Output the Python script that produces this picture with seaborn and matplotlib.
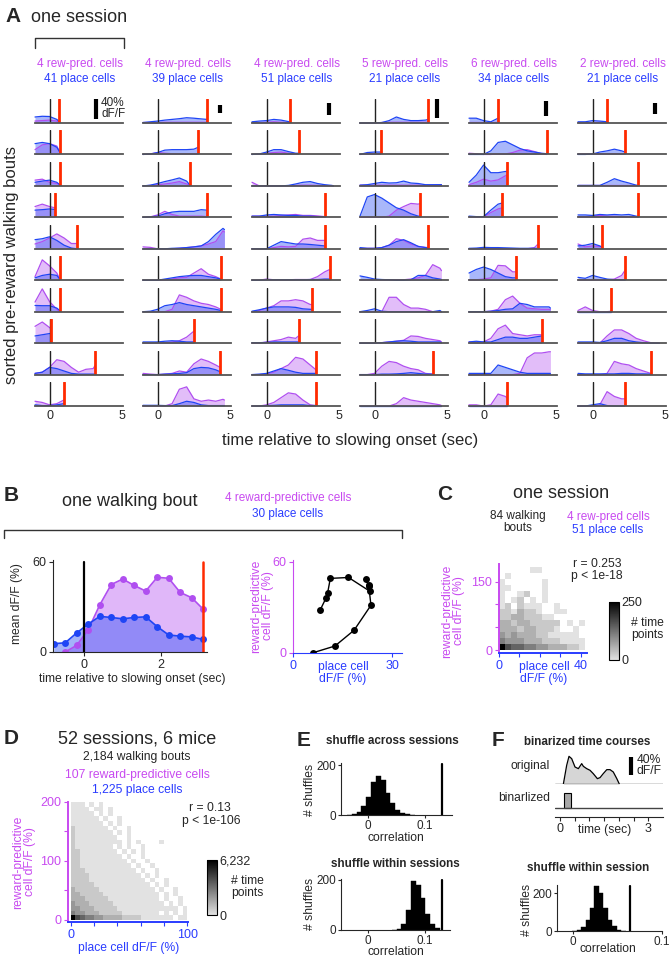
import numpy as np
import pandas as pd
import matplotlib
matplotlib.use("Agg")
import matplotlib.pyplot as plt
import seaborn as sns
from matplotlib.colors import LinearSegmentedColormap
from matplotlib.lines import Line2D

# ===============================
# DATA
# ===============================
# panel A: traces sampled on a 0.5 s grid, last value sits at the end of the bout
# values are in units of row height (scale bar = 40% dF/F, see SCALE_BAR_H)
T_GRID = [-1.0, -0.5, 0.0, 0.5, 1.0, 1.5, 2.0, 2.5, 3.0, 3.5, 4.0, 4.5]
HEAD_REW = [4, 4, 4, 5, 6, 2]
HEAD_PLACE = [41, 39, 51, 21, 34, 21]
SCALE_BAR_H = [0.83, 0.33, 0.5, 0.79, 0.63, 0.43]

RED_C1 = [0.68, 0.7, 0.7, 0.35, 1.9, 0.7, 0.7, 0.1, 3.15, 0.98]
PINK_C1 = [[0.08, 0.1, 0.12, 0.08, 0.02], [0.2, 0.4, 0.45, 0.35, 0.1], [0.24, 0.28, 0.15, 0.1, 0.05],
           [0.45, 0.55, 0.45, 0.4], [0.2, 0.3, 0.45, 0.62, 0.45, 0.22, 0.22], [0.15, 0.85, 0.6, 0.3, 0.05],
           [0.4, 0.95, 0.42, 0.1, 0.0], [0.7, 0.88, 0.65, 0.6],
           [0.05, 0.1, 0.3, 0.62, 0.55, 0.3, 0.1, 0.22, 0.25, 0.4], [0.2, 0.15, 0.05, 0.1, 0.25]]
BLUE_C1 = [[0.25, 0.28, 0.27, 0.15, 0.05], [0.45, 0.5, 0.45, 0.3, 0.1], [0.15, 0.2, 0.24, 0.15, 0.05],
           [0.3, 0.32, 0.35, 0.33], [0.38, 0.42, 0.5, 0.35, 0.15, 0.03, 0.0], [0.1, 0.2, 0.25, 0.2, 0.05],
           [0.26, 0.25, 0.25, 0.15, 0.05], [0.3, 0.35, 0.4, 0.4],
           [0.05, 0.1, 0.3, 0.25, 0.15, 0.05, 0.02, 0.02, 0.02, 0.02], [0.05, 0.02, 0.02, 0.05, 0.1]]

RED_C2 = [3.4, 2.8, 2.2, 3.4, None, 4.35, 4.35, 2.5, 4.3, None]
PINK_C2 = [[0.02, 0.02, 0.02, 0.03, 0.03, 0.03, 0.03, 0.03, 0.03, 0.03],
           [0, 0.02, 0.08, 0.05, 0.03, 0.03, 0.03, 0.03, 0.03],
           [0, 0.02, 0.05, 0.08, 0.12, 0.18, 0.08, 0.03],
           [0, 0.02, 0.1, 0.25, 0.12, 0.05, 0.05, 0.05, 0.05, 0.03],
           [0.08, 0.06, 0, 0, 0, 0.02, 0.05, 0.08, 0.12, 0.2, 0.3, 0.75, 0.7],
           [0, 0, 0, 0.02, 0.05, 0.1, 0.12, 0.3, 0.48, 0.25, 0.15, 0.05],
           [0, 0, 0, 0, 0.1, 0.7, 0.6, 0.45, 0.35, 0.3, 0.2, 0.1],
           [0, 0, 0.02, 0.02, 0.05, 0.1, 0.25, 0.5],
           [0.05, 0.02, 0, 0.02, 0.05, 0.15, 0.1, 0.45, 0.65, 0.55, 0.4, 0.3],
           [0, 0, 0, 0, 0.1, 0.7, 0.8, 0.3, 0.2, 0.25, 0.2, 0.28, 0.25]]
BLUE_C2 = [[0.02, 0.05, 0.08, 0.12, 0.15, 0.18, 0.22, 0.2, 0.17, 0.15],
           [0, 0.02, 0.08, 0.18, 0.2, 0.2, 0.2, 0.22, 0.3],
           [0, 0.03, 0.1, 0.18, 0.25, 0.33, 0.2, 0.05],
           [0, 0.02, 0.05, 0.15, 0.22, 0.25, 0.25, 0.25, 0.32, 0.3],
           [0, 0, 0, 0, 0.02, 0.03, 0.05, 0.08, 0.12, 0.3, 0.6, 0.85, 0.8],
           [0, 0, 0, 0.05, 0.1, 0.15, 0.18, 0.2, 0.2, 0.15, 0.1, 0.05],
           [0, 0.02, 0.1, 0.25, 0.3, 0.38, 0.3, 0.25, 0.2, 0.15, 0.1, 0.05],
           [0.05, 0.05, 0.05, 0.08, 0.1, 0.08, 0.05, 0.05],
           [0, 0, 0, 0.02, 0.03, 0.05, 0.08, 0.25, 0.3, 0.28, 0.2, 0.12],
           [0.03, 0.03, 0.03, 0.02, 0.02, 0.1, 0.2, 0.15, 0.05, 0.02, 0.02, 0.02, 0.02]]

RED_C3 = [1.6, 2.2, None, 4.05, 4.05, 4.35, 3.15, 2.2, 3.4, 3.4]
PINK_C3 = [[0.02, 0.02, 0.03, 0.05, 0.03, 0.02, 0.02],
           [0, 0.02, 0.05, 0.08, 0.1, 0.05, 0.03, 0.03],
           [0.15, 0, 0, 0, 0, 0, 0.02, 0.03, 0.03, 0.02, 0.02, 0, 0],
           [0.05, 0.05, 0.05, 0.05, 0.08, 0.1, 0.12, 0.08, 0.08, 0.06, 0.03, 0.03],
           [0, 0, 0, 0.05, 0.1, 0.08, 0.1, 0.4, 0.45, 0.35, 0.35, 0.35],
           [0, 0, 0.05, 0.02, 0.02, 0.02, 0.03, 0.03, 0.03, 0.15, 0.35, 0.45],
           [0, 0.05, 0.15, 0.25, 0.45, 0.45, 0.5, 0.45, 0.3, 0.3],
           [0, 0, 0.05, 0.1, 0.15, 0.25, 0.2, 0.3],
           [0, 0, 0.02, 0.1, 0.25, 0.4, 0.72, 0.65, 0.4, 0.2],
           [0, 0, 0.05, 0.15, 0.35, 0.55, 0.5, 0.25, 0.05, 0.02]]
BLUE_C3 = [[0.05, 0.08, 0.1, 0.15, 0.12, 0.06, 0.05],
           [0, 0.02, 0.1, 0.2, 0.2, 0.12, 0.05, 0.05],
           [0, 0, 0, 0, 0, 0.02, 0.08, 0.15, 0.18, 0.1, 0.05, 0.02, 0],
           [0.05, 0.05, 0.1, 0.12, 0.1, 0.08, 0.08, 0.05, 0.05, 0.03, 0.03, 0.03],
           [0, 0, 0, 0.15, 0.3, 0.25, 0.2, 0.2, 0.18, 0.15, 0.12, 0.12],
           [0, 0, 0.02, 0.02, 0.02, 0.02, 0.02, 0.02, 0.03, 0.03, 0.05, 0.05],
           [0.02, 0.08, 0.15, 0.2, 0.2, 0.2, 0.18, 0.12, 0.1, 0.1],
           [0.02, 0.02, 0.03, 0.05, 0.05, 0.05, 0.05, 0.05],
           [0, 0.02, 0.05, 0.15, 0.25, 0.18, 0.1, 0.05, 0.05, 0.05],
           [0, 0, 0.02, 0.03, 0.05, 0.05, 0.05, 0.05, 0.02, 0.02]]

RED_C4 = [3.7, 0.41, None, 3.13, 3.7, None, None, None, 4.0, None]
PINK_C4 = [[0, 0, 0, 0.02, 0.03, 0.03, 0.03, 0.03, 0.03, 0.03, 0.03],
           [0, 0.02, 0.03, 0.03],
           [0.03, 0.03, 0.03, 0.03, 0.03, 0.03, 0.03, 0.03, 0.03, 0.03, 0.03, 0.05, 0.05],
           [0, 0, 0, 0, 0.05, 0.3, 0.45, 0.58, 0.55, 0.58],
           [0.02, 0.02, 0.02, 0.05, 0.15, 0.42, 0.35, 0.2, 0.1, 0.06, 0.05],
           [0.02, 0.02, 0.02, 0.02, 0.02, 0.02, 0.02, 0.05, 0.1, 0.2, 0.65, 0.5, 0.4],
           [0, 0, 0, 0, 0.6, 0.6, 0.3, 0.15, 0.15, 0.1, 0, 0, 0],
           [0, 0, 0, 0.02, 0.05, 0.08, 0.12, 0.3, 0.28, 0.2, 0.15, 0.1, 0.05],
           [0, 0, 0.05, 0.35, 0.55, 0.5, 0.35, 0.25, 0.2, 0.05, 0.02],
           [0, 0, 0, 0, 0, 0.1, 0.35, 0.25, 0.2, 0.15, 0.1, 0.05, 0.02]]
BLUE_C4 = [[0, 0, 0, 0.02, 0.1, 0.25, 0.15, 0.1, 0.1, 0.12, 0.15],
           [0, 0.08, 0.1, 0.1],
           [0.03, 0.05, 0.1, 0.15, 0.12, 0.13, 0.2, 0.12, 0.1, 0.05, 0.05, 0.05, 0.05],
           [0.05, 0.85, 0.95, 0.8, 0.6, 0.4, 0.3, 0.15, 0.05, 0.05],
           [0.05, 0.02, 0.02, 0.05, 0.15, 0.3, 0.38, 0.25, 0.1, 0.05, 0.03],
           [0.18, 0.12, 0.05, 0.03, 0.02, 0.0, 0.0, 0.02, 0.2, 0.2, 0.1, 0.05, 0.03],
           [0, 0.05, 0.12, 0.02, 0, 0, 0, 0, 0, 0, 0, 0.05, 0],
           [0, 0, 0, 0.02, 0.05, 0.08, 0.1, 0.08, 0.05, 0.05, 0.05, 0.05, 0.02],
           [0, 0, 0, 0.02, 0.02, 0.03, 0.05, 0.08, 0.05, 0.02, 0.02],
           [0.02, 0.02, 0.02, 0.02, 0.02, 0.02, 0.02, 0.02, 0.02, 0.02, 0.02, 0.02, 0.02]]

RED_C5 = [1.0, 4.34, 1.6, 1.3, 3.72, 2.2, None, 4.0, None, 1.6]
PINK_C5 = [[0.03, 0.03, 0.03, 0.03, 0.03],
           [0.05, 0.03, 0.0, 0.0, 0.02, 0.02, 0.08, 0.18, 0.2, 0.12, 0.03, 0.0],
           [0.05, 0.15, 0.28, 0.2, 0.25, 0.42, 0.45],
           [0.02, 0.02, 0.02, 0.2, 0.35, 0.4],
           [0, 0, 0, 0, 0, 0, 0, 0, 0, 0.05, 0.18],
           [0.02, 0.02, 0.05, 0.1, 0.62, 0.6, 0.35, 0.35],
           [0, 0, 0, 0.02, 0.1, 0.5, 0.65, 0.35, 0.15, 0.12, 0.1, 0.1, 0.08],
           [0.05, 0.05, 0.05, 0.2, 0.6, 0.75, 0.4, 0.35, 0.3, 0.35, 0.35],
           [0, 0, 0, 0, 0, 0, 0, 0.05, 0.7, 0.9, 0.9, 0.95, 0.95],
           [0.05, 0.05, 0, 0.05, 0.5, 0.4, 0.35]]
BLUE_C5 = [[0.2, 0.2, 0.1, 0.05, 0.2],
           [0, 0, 0, 0.15, 0.5, 0.55, 0.4, 0.25, 0.15, 0.1, 0.05, 0.03],
           [0.15, 0.45, 0.87, 0.55, 0.55, 0.6, 0.6],
           [0.05, 0.03, 0.03, 0.3, 0.55, 0.6],
           [0.02, 0.03, 0.06, 0.05, 0.05, 0.04, 0.03, 0.02, 0.02, 0.02, 0.02],
           [0.3, 0.45, 0.55, 0.45, 0.3, 0.15, 0.1, 0.1],
           [0, 0, 0, 0.02, 0.05, 0.1, 0.12, 0.35, 0.3, 0.2, 0.2, 0.2, 0.15],
           [0.05, 0.08, 0.05, 0.05, 0.15, 0.25, 0.25, 0.2, 0.2, 0.25, 0.3],
           [0.05, 0.05, 0.05, 0.05, 0.4, 0.3, 0.2, 0.1, 0.05, 0.05, 0.05, 0.05, 0.05],
           [0, 0, 0, 0, 0, 0, 0]]

RED_C6 = [1.0, 2.24, 3.15, 3.15, 0.68, 2.24, 1.3, None, 4.0, 2.2]
PINK_C6 = [[0.02, 0.02, 0.02, 0.03, 0.03],
           [0.02, 0.02, 0.02, 0.02, 0.03, 0.03, 0.03, 0.03],
           [0.02, 0.02, 0.02, 0.02, 0.02, 0.02, 0.02, 0.02, 0.02, 0.02],
           [0.03, 0.03, 0.05, 0.08, 0.05, 0.04, 0.03, 0.03, 0.03, 0.03],
           [0.2, 0.08, 0.12, 0.1, 0.05],
           [0.02, 0.02, 0.02, 0.02, 0.02, 0.05, 0.2, 0.42],
           [0.05, 0.2, 0.05, 0, 0, 0.02],
           [0, 0, 0, 0, 0.3, 0.55, 0.55, 0.4, 0.2, 0.1, 0.02, 0, 0],
           [0, 0, 0, 0, 0.05, 0.55, 0.45, 0.4, 0.25, 0.15, 0.05],
           [0, 0, 0, 0.05, 0.6, 0.4, 0.3, 0.3]]
BLUE_C6 = [[0.05, 0.05, 0.1, 0.08, 0.05],
           [0, 0, 0.02, 0.1, 0.15, 0.22, 0.15, 0.1],
           [0.02, 0.02, 0.02, 0.02, 0.15, 0.3, 0.2, 0.12, 0.03, 0.02],
           [0.1, 0.1, 0.08, 0.12, 0.1, 0.12, 0.1, 0.12, 0.05, 0.03],
           [0.12, 0.15, 0.22, 0.12, 0.05],
           [0.12, 0.08, 0.2, 0.12, 0.05, 0.02, 0.02, 0.02],
           [0, 0, 0, 0, 0, 0],
           [0.05, 0.05, 0.05, 0.03, 0.1, 0.2, 0.2, 0.1, 0.05, 0.02, 0, 0, 0],
           [0.05, 0.03, 0.03, 0.03, 0.03, 0.03, 0.05, 0.05, 0.03, 0.03, 0.02],
           [0, 0, 0.05, 0.1, 0.02, 0, 0, 0]]

# panel B: one walking bout (mean dF/F, %)
B_TIME = [-0.8, -0.5, -0.2, 0.1, 0.4, 0.7, 1.0, 1.3, 1.6, 1.9, 2.2, 2.5, 2.8, 3.1]
B_PINK = [np.nan, 0, 4.4, 14.8, 31.2, 44.7, 48.4, 44.1, 40.4, 49.5, 48.9, 39.5, 36.0, 28.4]
B_BLUE = [5.5, 6.1, 12.7, 18.5, 23.6, 22.9, 22.0, 22.9, 23.3, 16.8, 11.3, 10.5, 10.0, 8.3]
B_REWARD_T = 3.1

# panel C: one session 2D histogram (grey level 0-9, '.' = empty), top row first
C_ROWS = [".....00",
          ".0",
          "0......0",
          "00.....0",
          "0..01..0",
          "0.01.0.0",
          "01.1000..0",
          "1102110..00",
          "112211100",
          "2212211111.0.0",
          "2221221110..0",
          "3232221100000",
          "43332221110000",
          "96554433222110"]
C_BIN_X, C_BIN_Y = 3, 13
C_CBAR_MAX = "250"

# panel D: all sessions 2D histogram, top row first
D_ROWS = ["000.0.0",
          "0000.00.0",
          "00000.0.0",
          "000000.0..0",
          "0000000.0.0",
          "10000000.0..0",
          "100000000.0.0",
          "1000000000..0",
          "10000000000.0.0....0",
          "100000000.0.0..0",
          "1100000000.0.0.0",
          "11000000000.0..0",
          "110000000000.0..0",
          "1100000000000.0..0",
          "11100000000000.0..0",
          "111100000000000.0.0",
          "1111000000000000.0..0",
          "11111000000000000.0.0",
          "211111000000000000.0..0",
          "2211111000000000000.0.0",
          "2221111100000000000.0..0",
          "32221111100000000000.0.0",
          "33222111110000000000000.0",
          "4332221111100000000.0.0.0",
          "9654433222211110000000.00"]
D_BIN_X, D_BIN_Y = 4, 8
D_CBAR_MAX = "6,232"

# panel E: shuffle histograms
E1_CENTERS = [-0.03325, -0.02475, -0.01625, -0.00775, 0.00075, 0.00925, 0.01775,
              0.02625, 0.03475, 0.04325, 0.05175, 0.06025, 0.06875, 0.07725]
E1_COUNTS = [1, 3, 13, 36, 73, 133, 156, 140, 87, 47, 20, 7, 3, 1]
E2_CENTERS = [0.04625, 0.05475, 0.06325, 0.07175, 0.08025, 0.08875, 0.09725, 0.10575, 0.11425, 0.12275]
E2_COUNTS = [1, 3, 24, 78, 193, 180, 126, 65, 24, 8]
E_BIN_W = 0.0085
E_REAL = 0.13

# panel F: binarized example + shuffle
F_T = [0.113, 0.227, 0.306, 0.397, 0.51, 0.624, 0.737, 0.794, 0.907, 1.02, 1.13, 1.27, 1.36,
       1.47, 1.59, 1.70, 1.81, 1.93, 2.02]
F_V = [0, 41.6, 61.3, 56.2, 37.9, 34.3, 45.3, 39.4, 34.3, 30.7, 23.4, 12.4, 14.6, 23.4,
       32.1, 32.1, 27.0, 12.4, 0]
F_BIN_ON, F_BIN_OFF = 0.146, 0.374
F_CENTERS = [0.0018, 0.0068, 0.0118, 0.0168, 0.0218, 0.0268, 0.0318, 0.0368, 0.0418, 0.0468, 0.0518, 0.0568]
F_COUNTS = [2, 7, 21, 61, 120, 240, 200, 120, 61, 25, 7, 2]
F_BIN_W = 0.005
F_REAL = 0.064

# ===============================
# STYLE
# ===============================
sns.set_style("ticks")
plt.rcParams['font.family'] = ['Liberation Sans', 'DejaVu Sans']
plt.rcParams['xtick.major.size'] = 3
plt.rcParams['ytick.major.size'] = 3

PINK_TXT = '#c84af0'
BLUE_TXT = '#2a3cff'
PINK_LINE = '#b04ff0'
BLUE_LINE = '#1f45f5'
PINK_FILL = '#c77cf5'
BLUE_FILL = '#3355f5'
RED = '#ff2a00'
GREYS = LinearSegmentedColormap.from_list('greys_pt', ['#e2e2e2', '#000000'])

W, H = 671, 958
fig = plt.figure(figsize=(W / 100, H / 100), dpi=100)


def ax_px(x0, y0, x1, y1):
    return fig.add_axes([x0 / W, 1 - y1 / H, (x1 - x0) / W, (y1 - y0) / H])


def txt(x, y, s, **kw):
    kw.setdefault('ha', 'center')
    kw.setdefault('va', 'center')
    fig.text(x / W, 1 - y / H, s, **kw)


def line_px(xs, ys, **kw):
    fig.add_artist(Line2D([x / W for x in xs], [1 - y / H for y in ys],
                          transform=fig.transFigure, **kw))


# ===============================
# PANEL A
# ===============================
A_RED = [RED_C1, RED_C2, RED_C3, RED_C4, RED_C5, RED_C6]
A_PINK = [PINK_C1, PINK_C2, PINK_C3, PINK_C4, PINK_C5, PINK_C6]
A_BLUE = [BLUE_C1, BLUE_C2, BLUE_C3, BLUE_C4, BLUE_C5, BLUE_C6]
A_X0 = [35, 143, 252, 360, 469, 578]
A_W, A_H, A_Y0, A_DY = 88, 24, 123, 31.45
SB_T = [3.2, 4.3, 4.3, 4.3, 4.3, 4.3]

txt(5, 17, "A", size=15, weight='bold', ha='left')
txt(31, 18, "one session", size=13, ha='left')
line_px([35, 35, 124, 124], [48, 38, 38, 48], color='#333333', lw=1)

for c in range(6):
    cx = A_X0[c] + A_W / 2 + 1
    txt(cx, 63.5, f"{HEAD_REW[c]} rew-pred. cells", color=PINK_TXT, size=8.5)
    txt(cx, 79, f"{HEAD_PLACE[c]} place cells", color=BLUE_TXT, size=8.5)
    for r in range(10):
        yb = A_Y0 + r * A_DY
        ax = ax_px(A_X0[c], yb - A_H, A_X0[c] + A_W, yb)
        ax.set_xlim(-1.0, 5.05)
        ax.set_ylim(0, 1)
        red = A_RED[c][r]
        end = red if red is not None else 4.6
        for vals, fc, lc, al in ((A_PINK[c][r], PINK_FILL, PINK_LINE, 0.5),
                                 (A_BLUE[c][r], BLUE_FILL, BLUE_LINE, 0.42)):
            t = T_GRID[:len(vals) - 1] + [end]
            ax.fill_between(t, vals, color=fc, alpha=al, lw=0, clip_on=False)
            ax.plot(t, vals, color=lc, lw=0.9, clip_on=False)
        ax.plot([0, 0], [0, 1], color='#222222', lw=1)
        if red is not None:
            ax.plot([red, red], [0, 1], color=RED, lw=2)
        sns.despine(ax=ax, left=True)
        ax.spines['bottom'].set_color('#555555')
        ax.spines['bottom'].set_linewidth(1.3)
        ax.set_yticks([])
        if r == 9:
            ax.set_xticks([0, 5])
            ax.tick_params(axis='x', length=0, labelsize=9, pad=3)
        else:
            ax.set_xticks([])
        if r == 0:
            h = SCALE_BAR_H[c]
            ax.plot([SB_T[c], SB_T[c]], [0.6 - h / 2, 0.6 + h / 2], color='black', lw=3,
                    solid_capstyle='butt', clip_on=False)
            if c == 0:
                ax.text(3.55, 0.6, "40%\ndF/F", size=8.5, va='center', ha='left', linespacing=0.95)

txt(12, 265, "sorted pre-reward walking bouts", size=12, rotation=90)
txt(350, 440, "time relative to slowing onset (sec)", size=12)

# ===============================
# PANEL B
# ===============================
txt(4, 496, "B", size=15, weight='bold', ha='left')
txt(130, 501, "one walking bout", size=13)
txt(288, 498, "4 reward-predictive cells", color=PINK_TXT, size=8.5)
txt(288, 514, "30 place cells", color=BLUE_TXT, size=8.5)
line_px([4, 4, 401.7, 401.7], [538.3, 530, 530, 538.3], color='#333333', lw=1)

axb = ax_px(53, 560, 207, 652)
bt = np.array(B_TIME)
bp = np.array(B_PINK)
bb = np.array(B_BLUE)
ok = ~np.isnan(bp)
axb.fill_between(bt[ok], bp[ok], color=PINK_FILL, alpha=0.55, lw=0)
axb.fill_between(bt, bb, color=BLUE_FILL, alpha=0.45, lw=0)
sns.lineplot(x=bt[ok], y=bp[ok], ax=axb, color=PINK_LINE, marker='o', markersize=5,
             markeredgewidth=0, lw=1.2, sort=False, estimator=None)
sns.lineplot(x=bt, y=bb, ax=axb, color=BLUE_LINE, marker='o', markersize=5,
             markeredgewidth=0, lw=1.2, sort=False, estimator=None)
axb.plot([0, 0], [0, 60], color='black', lw=1.6)
axb.plot([B_REWARD_T, B_REWARD_T], [0, 60], color=RED, lw=1.8)
axb.set_xlim(-0.82, 3.2)
axb.set_ylim(0, 61)
axb.set_xticks([0, 2])
axb.set_yticks([0, 60])
axb.tick_params(labelsize=9, pad=2)
sns.despine(ax=axb)
txt(17, 604, "mean dF/F (%)", size=8.7, rotation=90)
txt(132, 679, "time relative to slowing onset (sec)", size=8.7)

axp = ax_px(293, 560, 402, 652.7)
sns.lineplot(x=bb[ok], y=bp[ok], ax=axp, color='black', marker='o', markersize=5,
             markeredgewidth=0, lw=1.0, sort=False, estimator=None)
axp.set_xlim(0, 33)
axp.set_ylim(0, 61)
axp.set_xticks([0, 30])
axp.set_yticks([0, 60])
sns.despine(ax=axp)
axp.spines['left'].set_color(PINK_TXT)
axp.spines['bottom'].set_color(BLUE_TXT)
axp.tick_params(axis='y', colors=PINK_TXT, labelsize=9, pad=2)
axp.tick_params(axis='x', colors=BLUE_TXT, labelsize=9, pad=2)
txt(262, 606, "reward-predictive\ncell dF/F (%)", size=8.7, rotation=90, color=PINK_TXT, linespacing=1.0)
txt(343, 673, "place cell\ndF/F (%)", size=8.7, color=BLUE_TXT, linespacing=1.0)


# ===============================
# PANELS C & D (2D histograms)
# ===============================
def grid_from_rows(rows, ncol):
    out = []
    for s in rows:
        s = s.ljust(ncol, '.')[:ncol]
        out.append([np.nan if ch == '.' else float(ch) for ch in s])
    return np.array(out)


def hist2d(rect, cbar_rect, rows, ncol, bx, by, xlim, ylim, xt, xtl, yt, ytl, cmax):
    ax = ax_px(*rect)
    cax = ax_px(*cbar_rect)
    data = grid_from_rows(rows, ncol)
    nrow = data.shape[0]
    sns.heatmap(data, mask=np.isnan(data), cmap=GREYS, vmin=0, vmax=9, ax=ax, cbar_ax=cax,
                xticklabels=False, yticklabels=False, linewidths=0)
    ax.set_xlim(xlim[0] / bx, xlim[1] / bx)
    ax.set_ylim(nrow - ylim[0] / by, nrow - ylim[1] / by)
    ax.set_xticks([v / bx for v in xt])
    ax.set_xticklabels(xtl)
    ax.set_yticks([nrow - v / by for v in yt])
    ax.set_yticklabels(ytl, rotation=0)
    for side in ('left', 'bottom'):
        ax.spines[side].set_visible(True)
        ax.spines[side].set_linewidth(1.4)
    ax.spines['left'].set_color(PINK_TXT)
    ax.spines['bottom'].set_color(BLUE_TXT)
    ax.tick_params(axis='y', colors=PINK_TXT, labelsize=9, pad=2, length=3, left=True)
    ax.tick_params(axis='x', colors=BLUE_TXT, labelsize=9, pad=2, length=3, bottom=True)
    cax.set_yticks([0, 9])
    cax.set_yticklabels(['0', cmax])
    cax.tick_params(length=0, labelsize=9, pad=2)
    cb = ax.collections[0].colorbar
    if cb is not None:
        cb.outline.set_linewidth(0.8)
        cb.outline.set_edgecolor('black')
    return ax


txt(437, 495, "C", size=15, weight='bold', ha='left')
txt(561, 494, "one session", size=13)
txt(518, 522, "84 walking\nbouts", size=8.5, linespacing=1.05)
txt(608, 516.7, "4 rew-pred cells", color=PINK_TXT, size=8.5)
txt(608, 530, "51 place cells", color=BLUE_TXT, size=8.5)
hist2d((499, 564, 586.7, 652.7), (609, 601.7, 619, 660), C_ROWS, 14, C_BIN_X, C_BIN_Y,
       (0, 42.8), (-5.9, 188.9), [0, 10, 20, 30, 40], ['0', '', '', '', '40'],
       [0, 50, 100, 150], ['0', '', '', '150'], C_CBAR_MAX)
txt(597, 564, "r = 0.253", size=8.7)
txt(597, 576, "p < 1e-18", size=8.7)
txt(647, 629, "# time\npoints", size=8.7, linespacing=1.05)
txt(453, 611, "reward-predictive\ncell dF/F (%)", size=8.7, rotation=90, color=PINK_TXT, linespacing=1.0)
txt(544, 673, "place cell\ndF/F (%)", size=8.7, color=BLUE_TXT, linespacing=1.0)

txt(4, 738, "D", size=15, weight='bold', ha='left')
txt(137, 739, "52 sessions, 6 mice", size=13)
txt(137, 757, "2,184 walking bouts", size=8.7)
txt(137, 775, "107 reward-predictive cells", color=PINK_TXT, size=8.7)
txt(137, 790, "1,225 place cells", color=BLUE_TXT, size=8.7)
hist2d((68.3, 801.7, 188.3, 922), (206.7, 860, 216.7, 915), D_ROWS, 25, D_BIN_X, D_BIN_Y,
       (-2.06, 100.9), (-3.4, 200.5), [0, 20, 40, 60, 80, 100], ['0', '', '', '', '', '100'],
       [0, 50, 100, 150, 200], ['0', '', '100', '', '200'], D_CBAR_MAX)
txt(210, 808, "r = 0.13", size=8.7)
txt(211, 821, "p < 1e-106", size=8.7)
txt(247, 887, "# time\npoints", size=8.7, linespacing=1.05)
txt(24, 862, "reward-predictive\ncell dF/F (%)", size=8.7, rotation=90, color=PINK_TXT, linespacing=1.0)
txt(129, 948, "place cell dF/F (%)", size=8.7, color=BLUE_TXT)


# ===============================
# PANELS E & F (shuffle histograms)
# ===============================
def shuffle_hist(rect, centers, counts, bw, real, xlim, ylim, yt):
    ax = ax_px(*rect)
    df = pd.DataFrame({'corr': centers, 'n': counts})
    lo = centers[0] - bw / 2
    hi = centers[-1] + bw / 2
    sns.histplot(data=df, x='corr', weights='n', binwidth=bw, binrange=(lo, hi), ax=ax,
                 color='black', alpha=1, edgecolor='black', linewidth=0.3)
    ax.plot([real, real], [0, ylim[1] * 0.98], color='black', lw=1.6)
    ax.set_xlim(*xlim)
    ax.set_ylim(*ylim)
    ax.set_xticks([0, 0.1])
    ax.set_xticklabels(['0', '0.1'])
    ax.set_yticks(yt)
    ax.set_xlabel('')
    ax.set_ylabel('')
    ax.tick_params(labelsize=8.5, pad=1, length=2.5)
    sns.despine(ax=ax)
    return ax


txt(297, 740, "E", size=15, weight='bold', ha='left')
txt(392, 741, "shuffle across sessions", size=8.4, weight='bold')
shuffle_hist((341, 763, 451.7, 815), E1_CENTERS, E1_COUNTS, E_BIN_W, E_REAL,
             (-0.048, 0.147), (0, 208), [0, 200])
txt(310, 790, "# shuffles", size=8.7, rotation=90)
txt(396, 838, "correlation", size=8.7)
txt(395, 864, "shuffle within sessions", size=8.4, weight='bold')
shuffle_hist((341, 879, 450, 930), E2_CENTERS, E2_COUNTS, E_BIN_W, E_REAL,
             (-0.048, 0.145), (0, 202), [0, 200])
txt(310, 904, "# shuffles", size=8.7, rotation=90)
txt(396, 952, "correlation", size=8.7)

txt(492, 740, "F", size=15, weight='bold', ha='left')
txt(587, 742, "binarized time courses", size=8.4, weight='bold')
txt(550, 766, "original", size=8.7, ha='right')
txt(550, 798, "binarlized", size=8.7, ha='right')

axo = ax_px(555, 755, 663, 784.3)
axo.fill_between(F_T, F_V, color='#d6d6d6', lw=0)
axo.plot(F_T, F_V, color='black', lw=0.9)
axo.axhline(0, color='#444444', lw=1)
axo.plot([2.4, 2.4], [20.4, 60.4], color='black', lw=3, solid_capstyle='butt')
axo.text(2.6, 41, "40%\ndF/F", size=8.7, va='center', ha='left', linespacing=0.95)
axo.set_xlim(-0.17, 3.5)
axo.set_ylim(0, 64.2)
axo.axis('off')

axz = ax_px(555, 790, 663, 816.5)
axz.axhline(0, color='#444444', lw=1)
axz.bar([(F_BIN_ON + F_BIN_OFF) / 2], [1], width=F_BIN_OFF - F_BIN_ON, color='#a8a8a8',
        edgecolor='black', linewidth=0.8)
axz.set_xlim(-0.17, 3.5)
axz.set_ylim(-0.52, 1.17)
axz.set_xticks([0, 0.5, 1, 1.5, 2, 2.5, 3])
axz.set_xticklabels(['0', '', '', '', '', '', '3'])
axz.set_yticks([])
axz.tick_params(labelsize=9, pad=2)
sns.despine(ax=axz, left=True)
txt(605, 830, "time (sec)", size=8.7)

txt(588, 868, "shuffle within session", size=8.4, weight='bold')
shuffle_hist((556.7, 885, 662, 931), F_CENTERS, F_COUNTS, F_BIN_W, F_REAL,
             (-0.018, 0.1), (0, 245), [0, 200])
txt(527, 910, "# shuffles", size=8.7, rotation=90)
txt(608, 949, "correlation", size=8.7)

fig.savefig("out.png", dpi=100)
